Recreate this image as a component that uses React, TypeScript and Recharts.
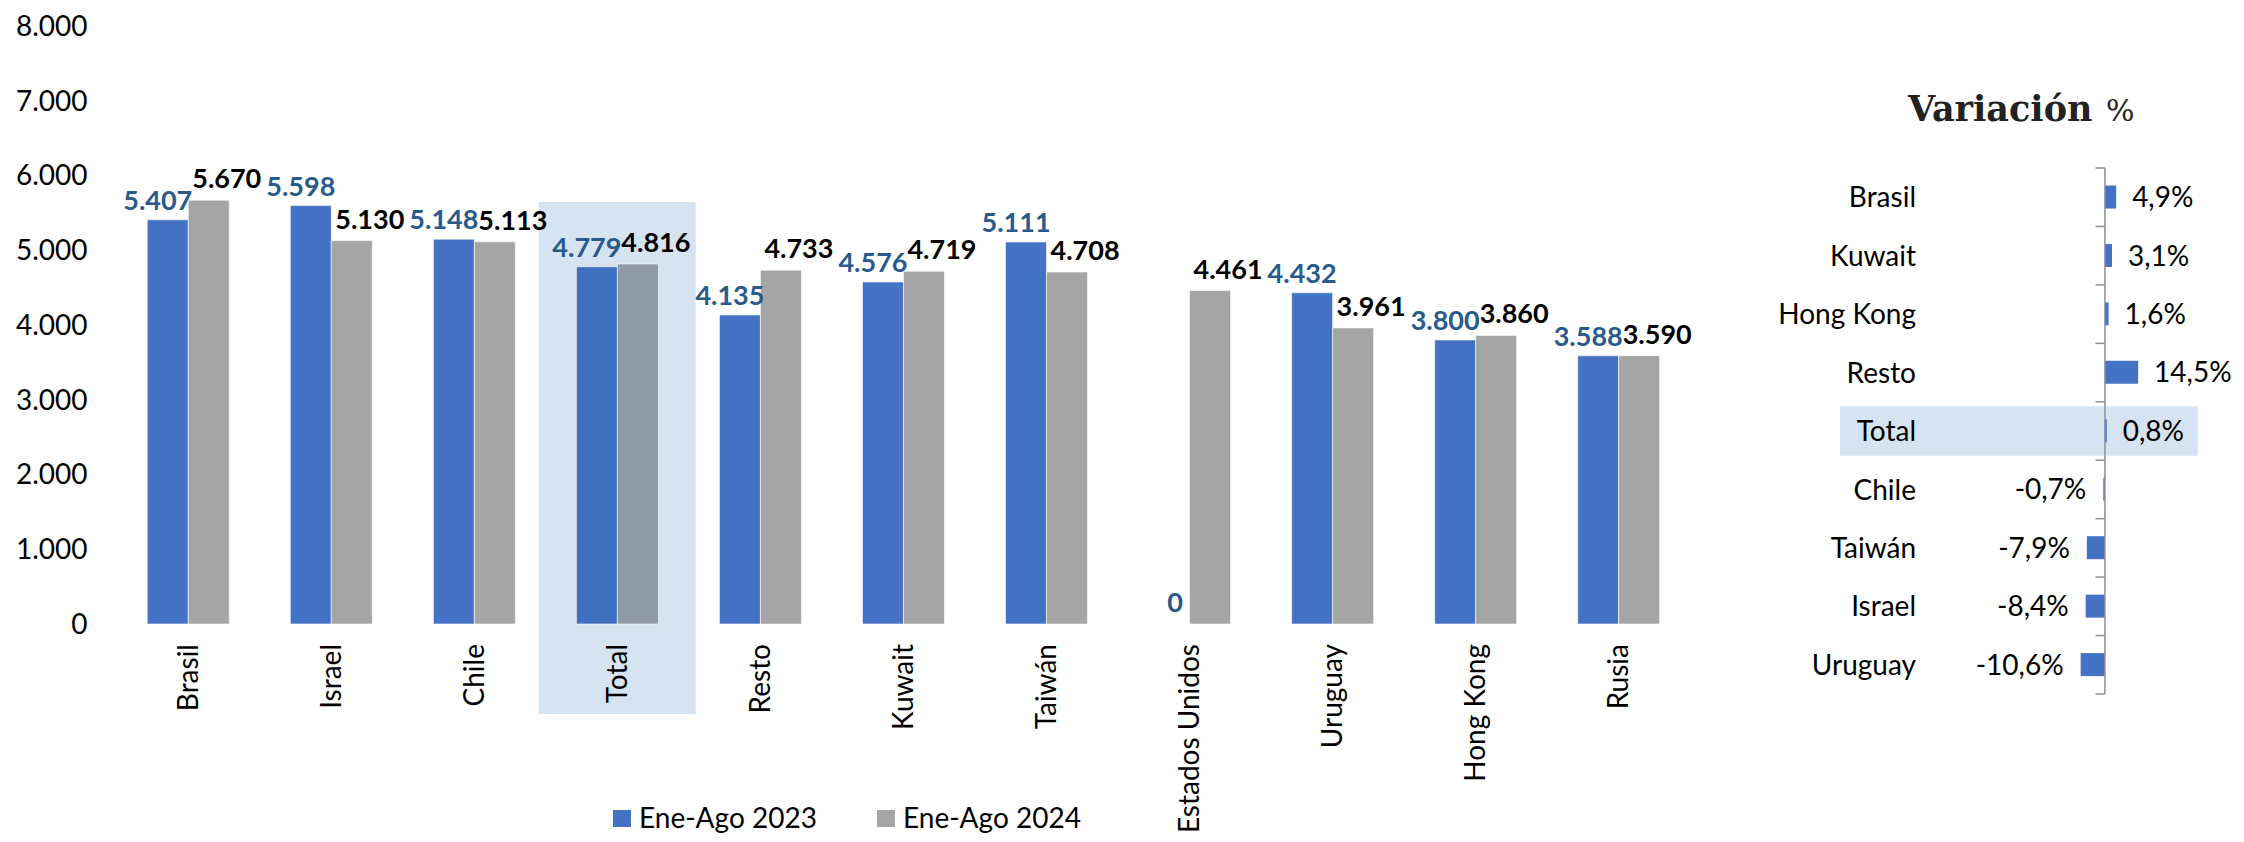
import React from "react";
import {
  Bar,
  BarChart,
  Cell,
  LabelList,
  ReferenceArea,
  ReferenceLine,
  XAxis,
  YAxis,
} from "recharts";

const categories = [
  "Brasil",
  "Israel",
  "Chile",
  "Total",
  "Resto",
  "Kuwait",
  "Taiwán",
  "Estados Unidos",
  "Uruguay",
  "Hong Kong",
  "Rusia",
];
const values2023 = [5407, 5598, 5148, 4779, 4135, 4576, 5111, 0, 4432, 3800, 3588];
const values2024 = [5670, 5130, 5113, 4816, 4733, 4719, 4708, 4461, 3961, 3860, 3590];
const yTicks = [0, 1000, 2000, 3000, 4000, 5000, 6000, 7000, 8000];

const varCategories = ["Brasil", "Kuwait", "Hong Kong", "Resto", "Total", "Chile", "Taiwán", "Israel", "Uruguay"];
const varValues = [4.9, 3.1, 1.6, 14.5, 0.8, -0.7, -7.9, -8.4, -10.6];

const seriesNames = ["Ene-Ago 2023", "Ene-Ago 2024"];

const BLUE = "#4472C4";
const GRAY = "#A5A5A5";
const LABEL_BLUE = "#285A8C";
const HIGHLIGHT = "#D6E3F0";
const AXIS_GRAY = "#8C9099";
const FONT = "Lato, 'Noto Sans', sans-serif";

const mainData = categories.map((name, i) => ({
  name,
  y2023: values2023[i],
  y2024: values2024[i],
}));

const varData = varCategories.map((name, i) => ({ name, value: varValues[i] }));

const fmtThousands = (v: number) => String(v).replace(/\B(?=(\d{3})+(?!\d))/g, ".");
const fmtPct = (v: number) => v.toFixed(1).replace(".", ",") + "%";

const XTick = ({ x, y, payload }: any) => (
  <text
    x={x}
    y={y}
    transform={`rotate(-90 ${x} ${y})`}
    textAnchor="end"
    dy="0.35em"
    fontSize={28}
    fontFamily={FONT}
    fill="#000"
  >
    {payload.value}
  </text>
);

const labelText = (x: number, y: number, color: string, value: number) => (
  <text x={x} y={y} textAnchor="middle" fontSize={27} fontWeight={700} fontFamily={FONT} fill={color}>
    {fmtThousands(value)}
  </text>
);

const blueLabel = (props: any) => {
  const { x, y, width, value } = props;
  if (!value) return null;
  return labelText(x + width / 2 - 10, y - 10, LABEL_BLUE, value);
};

// the 2023 series has a zero bar (Estados Unidos); its label is drawn next to the 2024 bar
const grayLabel = (props: any) => {
  const { x, y, width, value, index } = props;
  const prev = values2023[index];
  return (
    <g>
      {labelText(x + width / 2 + 18, y - 12, "#000", value)}
      {prev === 0 && labelText(x - width / 2 + 6, y + (props.height ?? 0) - 12, LABEL_BLUE, prev)}
    </g>
  );
};

const totalShape = (props: any) => (
  <rect
    x={props.x - 7}
    y={props.y}
    width={props.width + 14}
    height={props.height + 90}
    fill={HIGHLIGHT}
  />
);

const varTotalShape = (props: any) => (
  <rect x={props.x} y={props.y + 4.5} width={props.width} height={props.height - 9} fill={HIGHLIGHT} />
);

const varLabel = (props: any) => {
  const { x, y, width, height, value } = props;
  const left = Math.min(x, x + width);
  const right = Math.max(x, x + width);
  const pos = value >= 0;
  return (
    <text
      x={pos ? right + 16 : left - 17}
      y={y + height / 2}
      dy="0.36em"
      textAnchor={pos ? "start" : "end"}
      fontSize={28}
      fontFamily={FONT}
      fill="#000"
    >
      {fmtPct(value)}
    </text>
  );
};

const VarTick = ({ x, y, payload }: any) => (
  <text x={x} y={y} dy="0.36em" textAnchor="end" fontSize={28} fontFamily={FONT} fill="#000">
    {payload.value}
  </text>
);

export default function App() {
  return (
    <div style={{ position: "relative", width: 2244, height: 842, background: "#fff", overflow: "hidden" }}>
      <style>{"body{margin:0}"}</style>
      <div style={{ position: "absolute", left: 0, top: 0 }}>
        <BarChart
          width={1700}
          height={842}
          data={mainData}
          margin={{ top: 26, right: 10, bottom: 0, left: 0 }}
          barCategoryGap="21.5%"
          barGap={0}
        >
          <ReferenceArea
            x1="Total"
            x2="Total"
            y1={0}
            y2={5645}
            ifOverflow="visible"
            shape={totalShape}
          />
          <XAxis
            dataKey="name"
            interval={0}
            height={218}
            axisLine={false}
            tickLine={false}
            tickSize={0}
            tickMargin={20}
            tick={<XTick />}
          />
          <YAxis
            width={116.5}
            domain={[0, 8000]}
            ticks={yTicks}
            axisLine={false}
            tickLine={false}
            tickSize={0}
            tickMargin={29}
            tickFormatter={fmtThousands}
            tick={{ fontSize: 28, fontFamily: FONT, fill: "#000" }}
          />
          <Bar dataKey="y2023" name={seriesNames[0]} fill={BLUE} stroke="#fff" strokeOpacity={0.6} isAnimationActive={false}>
            {mainData.map((d) => (
              <Cell key={d.name} fill={d.name === "Total" ? "#3F6FBF" : BLUE} />
            ))}
            <LabelList dataKey="y2023" content={blueLabel} />
          </Bar>
          <Bar dataKey="y2024" name={seriesNames[1]} fill={GRAY} stroke="#fff" strokeOpacity={0.6} isAnimationActive={false}>
            {mainData.map((d) => (
              <Cell key={d.name} fill={d.name === "Total" ? "#8E9AA6" : GRAY} />
            ))}
            <LabelList dataKey="y2024" content={grayLabel} />
          </Bar>
        </BarChart>
      </div>

      <div style={{ position: "absolute", left: 1700, top: 0 }}>
        <BarChart
          width={544}
          height={842}
          data={varData}
          layout="vertical"
          margin={{ top: 168, right: 4, bottom: 148, left: 0 }}
          barCategoryGap="30%"
        >
          <XAxis type="number" domain={[-76.4, 59]} allowDataOverflow hide />
          <YAxis
            type="category"
            dataKey="name"
            width={230}
            interval={0}
            axisLine={false}
            tickLine={false}
            tickSize={0}
            tickMargin={14}
            tick={<VarTick />}
          />
          <ReferenceArea
            y1="Total"
            y2="Total"
            x1={-115.7}
            x2={40.6}
            ifOverflow="visible"
            shape={varTotalShape}
          />
          <ReferenceLine x={0} stroke={AXIS_GRAY} strokeWidth={1.5} />
          {varCategories.map((name) => (
            <ReferenceLine
              key={name}
              position="start"
              segment={[
                { x: -4.1, y: name },
                { x: 0, y: name },
              ]}
              stroke={AXIS_GRAY}
              strokeWidth={1.5}
              ifOverflow="visible"
            />
          ))}
          <ReferenceLine
            position="end"
            segment={[
              { x: -4.1, y: varCategories[varCategories.length - 1] },
              { x: 0, y: varCategories[varCategories.length - 1] },
            ]}
            stroke={AXIS_GRAY}
            strokeWidth={1.5}
            ifOverflow="visible"
          />
          <Bar dataKey="value" fill={BLUE} isAnimationActive={false}>
            <LabelList dataKey="value" content={varLabel} />
          </Bar>
        </BarChart>
      </div>

      <svg
        width={2244}
        height={842}
        style={{ position: "absolute", left: 0, top: 0, pointerEvents: "none" }}
      >
        <text x={1908} y={121} fontSize={35} fontWeight={700} fill="#222" fontFamily="'DejaVu Serif', serif">
          Variación
        </text>
        <text x={2106} y={121} fontSize={30} fill="#222" fontFamily="'DejaVu Serif', serif">
          %
        </text>
        <rect x={613} y={810} width={18} height={17} fill={BLUE} />
        <text x={639} y={828} fontSize={28} fontFamily={FONT} fill="#000">
          {seriesNames[0]}
        </text>
        <rect x={877} y={810} width={18} height={17} fill={GRAY} />
        <text x={903} y={828} fontSize={28} fontFamily={FONT} fill="#000">
          {seriesNames[1]}
        </text>
      </svg>
    </div>
  );
}
